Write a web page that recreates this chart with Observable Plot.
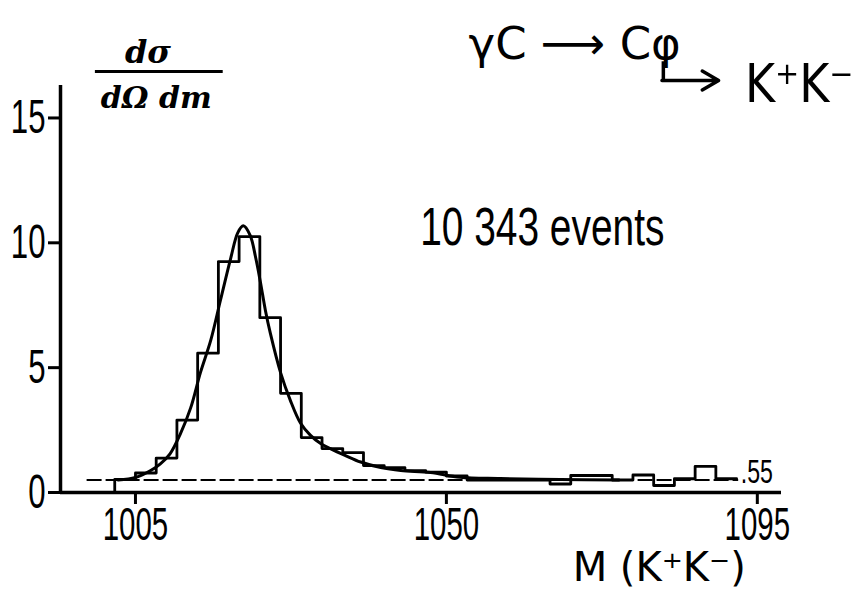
<!DOCTYPE html>
<html>
<head>
<meta charset="utf-8">
<script src="https://cdn.jsdelivr.net/npm/d3@7"></script>
<script src="https://cdn.jsdelivr.net/npm/@observablehq/plot@0.6"></script>
<style>
  html, body { margin: 0; padding: 0; background: #fff; overflow: hidden; }
</style>
</head>
<body>
<div id="chart"></div>
<script>
// ---- data ----
const xTicks = [1005, 1050, 1095];
const yTicks = [0, 5, 10, 15];

// histogram bin edges (MeV) and heights
const histEdges = [1002, 1005, 1008, 1011, 1014, 1017, 1020, 1023, 1026, 1029, 1032,
                   1035, 1038, 1041, 1044, 1047, 1050, 1053, 1056, 1059, 1062,
                   1065, 1068, 1071, 1074, 1077, 1080, 1083, 1086, 1089, 1092];
const histValues = [0.52, 0.78, 1.38, 2.9, 5.58, 9.25, 10.25, 7.0, 3.97, 2.2,
                    1.76, 1.6, 1.08, 1.0, 0.88, 0.82, 0.66, 0.5, 0.5, 0.5,
                    0.5, 0.34, 0.68, 0.68, 0.5, 0.7, 0.28, 0.55, 1.05, 0.55];

// fitted curve, read point by point
const fitMass = [1002.5, 1005, 1007.2, 1008.6, 1010, 1011.5, 1013, 1014.4, 1015.9, 1017.3,
                 1018.8, 1019.8, 1020.6, 1021.6, 1022.4, 1023.1, 1023.8, 1024.5, 1026, 1027.4,
                 1028.9, 1030.3, 1031.8, 1033.2, 1035.4, 1037.6, 1040.5, 1043.4, 1047.7, 1052,
                 1057.8, 1066.5, 1075];
const fitValue = [0.5, 0.6, 0.88, 1.15, 1.55, 2.35, 3.4, 4.8, 6.1, 7.7,
                  9.4, 10.4, 10.68, 10.3, 9.4, 8.4, 7.3, 6.4, 4.8, 3.7,
                  2.77, 2.3, 1.96, 1.76, 1.48, 1.22, 1.0, 0.88, 0.8, 0.61,
                  0.56, 0.52, 0.5];

const background = [0.5];   // dashed level labelled ".55"
const eventsLabel = ["10 343 events"];
const bgLabel = [".55"];

// ---- build tables ----
const histPts = [{x: histEdges[0], y: 0}]
  .concat(histValues.map((v, i) => ({x: histEdges[i], y: v})))
  .concat([{x: histEdges[histEdges.length - 1], y: histValues[histValues.length - 1]}]);
const fitPts = fitMass.map((m, i) => ({x: m, y: fitValue[i]}));

const xDomain = [994.15, 1098.5];
const yDomain = [0, 16.3];
const hand = "DejaVu Sans";

const chart = Plot.plot({
  width: 854,
  height: 591,
  marginLeft: 60,
  marginRight: 73,
  marginTop: 85,
  marginBottom: 99,
  style: {background: "white", color: "black", fontFamily: "Liberation Sans"},
  x: {domain: xDomain},
  y: {domain: yDomain},
  marks: [
    Plot.axisX({ticks: xTicks, tickSize: 12, tickPadding: 3, fontSize: 46, strokeWidth: 3, label: null, tickFormat: d => String(d)}),
    Plot.axisY({ticks: yTicks, tickSize: 12, tickPadding: 3, fontSize: 48, strokeWidth: 3, label: null}),
    Plot.ruleY([0], {strokeWidth: 3.5}),
    Plot.ruleX([xDomain[0]], {strokeWidth: 3.5}),
    Plot.ruleY(background, {y: d => d, x1: 998, x2: 1092.3, strokeWidth: 2, strokeDasharray: "15,4"}),
    Plot.line(histPts, {x: "x", y: "y", curve: "step-after", strokeWidth: 2.8}),
    Plot.line(fitPts, {x: "x", y: "y", curve: "catmull-rom", strokeWidth: 3}),
    // condensed annotations
    Plot.text(eventsLabel, {text: d => d, x: 1046.2, y: 9.9, textAnchor: "start", lineAnchor: "bottom",
      fontSize: 54, fontFamily: "Liberation Sans", ariaDescription: "cond"}),
    Plot.text(bgLabel, {text: d => d, x: 1092.6, y: 0.4, textAnchor: "start", lineAnchor: "bottom",
      fontSize: 34, fontFamily: "Liberation Sans", ariaDescription: "cond2"}),
    // axis title
    Plot.text(["M (K\u207AK\u207B)"], {text: d => d, x: 1080.8, y: -3.56, textAnchor: "middle", lineAnchor: "bottom",
      fontSize: 40, fontFamily: hand}),
    // reaction
    Plot.text(["\u03B3C \u27F6 C\u03C6"], {text: d => d, x: 1053.2, y: 17.38, textAnchor: "start", lineAnchor: "bottom",
      fontSize: 45, fontFamily: hand}),
    Plot.ruleX([1081.4], {x: d => d, y1: 17.25, y2: 16.5, strokeWidth: 3.5}),
    Plot.arrow([0], {x1: 1081.2, x2: 1089.4, y1: 16.5, y2: 16.5, bend: 0, headLength: 14, strokeWidth: 3.5}),
    Plot.text(["K\u207AK\u207B"], {text: d => d, x: 1093.2, y: 15.62, textAnchor: "start", lineAnchor: "bottom",
      fontSize: 54, fontFamily: hand, ariaDescription: "hand"}),
    // y-axis title as a fraction
    Plot.text(["d\u03C3"], {text: d => d, x: 1006.8, y: 17.22, textAnchor: "middle", lineAnchor: "bottom",
      fontSize: 32, fontWeight: "bold", fontStyle: "italic", fontFamily: "DejaVu Serif"}),
    Plot.ruleY([16.86], {y: d => d, x1: 999.2, x2: 1017.7, strokeWidth: 3}),
    Plot.text(["d\u03A9 dm"], {text: d => d, x: 1008, y: 15.38, textAnchor: "middle", lineAnchor: "bottom",
      fontSize: 30, fontWeight: "bold", fontStyle: "italic", fontFamily: "DejaVu Serif"})
  ]
});

document.getElementById("chart").appendChild(chart);

// horizontally squeeze lettering to match the condensed stencil type
function squeeze(selector, s) {
  chart.querySelectorAll(selector).forEach(t => {
    const x = +t.getAttribute("x") || 0, y = +t.getAttribute("y") || 0;
    const tr = t.getAttribute("transform") || "";
    t.setAttribute("transform", `${tr} translate(${x},${y}) scale(${s},1) translate(${-x},${-y})`);
  });
}
squeeze('g[aria-label^="x-axis"] text', 0.64);
squeeze('g[aria-label^="y-axis"] text', 0.65);
squeeze('g[aria-description="cond"] text', 0.72);
squeeze('g[aria-description="cond2"] text', 0.68);
squeeze('g[aria-description="hand"] text', 0.85);
</script>
</body>
</html>
